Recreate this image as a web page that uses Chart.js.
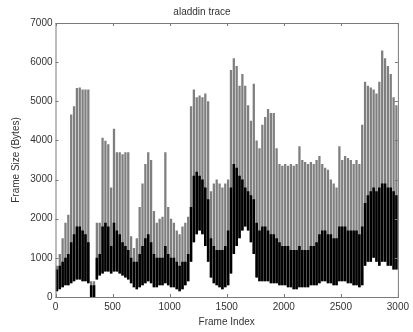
<!DOCTYPE html>
<html>
<head>
<meta charset="utf-8">
<script src="https://cdn.jsdelivr.net/npm/chart.js@4.4.1/dist/chart.umd.min.js"></script>
<style>
  html, body { margin: 0; padding: 0; background: #fff; }
  #wrap { position: relative; width: 413px; height: 332px; }
</style>
</head>
<body>
<div id="wrap"><canvas id="trace"></canvas></div>
<script>
// aladdin trace, frame sizes in bins of 25 frames
const binSize = 25;
const xTicks = [0, 500, 1000, 1500, 2000, 2500, 3000];
const yTicks = [0, 1000, 2000, 3000, 4000, 5000, 6000, 7000];

// top of the grey spikes (bytes)
const peakSize = [
  800, 1100, 1500, 1900, 2100, 4660, 4870, 5340, 5350, 5300,
  5300, 5300, 400, 400, 1900, 1900, 4070, 3990, 3900, 2800,
  4300, 3700, 3700, 3650, 3700, 3700, 1550, 1250, 1500, 2300,
  2900, 3400, 3700, 3500, 2200, 1900, 2000, 2050, 3700, 2300,
  2000, 1900, 1700, 1600, 1800, 1900, 2050, 4870, 5300, 5100,
  5150, 5100, 5200, 5000, 2700, 2900, 3000, 2900, 2800, 2900,
  3000, 5800, 6100, 5900, 5400, 5700, 5400, 4900, 4500, 5450,
  4000, 3800, 4400, 4600, 4800, 4700, 4700, 3800, 3400, 3350,
  3400, 3350, 3400, 3350, 3400, 3850, 3500, 3450, 3400, 3450,
  3400, 3500, 3600, 3400, 3300, 3250, 3000, 2900, 2800, 3850,
  3500, 3600, 3550, 3500, 3400, 3500, 3400, 4400, 5500, 5400,
  5350, 5300, 5200, 5500, 6300, 6100, 5900, 5700, 5100, 4900
];

// top of the dense black band (bytes)
const bandTop = [
  700, 800, 900, 1000, 1100, 1400, 1600, 1800, 1800, 1700,
  1600, 1400, 300, 300, 1000, 1100, 1800, 1900, 1800, 1300,
  1900, 1700, 1600, 1400, 1300, 1200, 1000, 900, 900, 1100,
  1300, 1500, 1600, 1400, 1100, 1000, 1000, 1000, 1300, 1100,
  1000, 1000, 900, 800, 900, 900, 1100, 2300, 3100, 3200,
  3100, 3000, 2800, 2500, 1500, 1300, 1200, 1200, 1200, 1300,
  1700, 2800, 3400, 3300, 3100, 3000, 2800, 2700, 2600, 2500,
  1900, 1700, 1800, 1800, 1700, 1600, 1600, 1500, 1400, 1300,
  1300, 1300, 1200, 1200, 1200, 1300, 1200, 1200, 1200, 1300,
  1300, 1400, 1600, 1700, 1700, 1600, 1600, 1500, 1500, 1800,
  1800, 1800, 1700, 1700, 1700, 1700, 1600, 1800, 2400, 2600,
  2700, 2800, 2700, 2800, 2900, 2900, 2800, 2800, 2700, 2600
];

// smallest frames in each bin (bytes)
const lowSize = [
  150, 200, 250, 300, 300, 350, 400, 450, 450, 400,
  400, 350, 0, 0, 450, 550, 600, 650, 650, 600,
  650, 650, 600, 550, 500, 450, 350, 250, 200, 250,
  300, 350, 400, 350, 250, 250, 300, 300, 350, 300,
  250, 250, 200, 150, 200, 300, 400, 900, 1400, 1600,
  1700, 1600, 1300, 900, 500, 350, 300, 250, 200, 250,
  300, 600, 1100, 1300, 1500, 1700, 1800, 1700, 1400, 1100,
  500, 400, 400, 400, 400, 350, 350, 350, 300, 300,
  300, 250, 250, 200, 200, 250, 250, 250, 250, 300,
  300, 300, 350, 400, 400, 350, 350, 300, 300, 400,
  400, 400, 350, 350, 300, 300, 250, 300, 800, 900,
  900, 1000, 900, 800, 900, 900, 800, 800, 700, 700
];

const binMid = peakSize.map((_, i) => i * binSize + binSize / 2);
const spikes = binMid.map((f, i) => ({ x: f, y: [lowSize[i], peakSize[i]] }));
const band = binMid.map((f, i) => ({ x: f, y: [lowSize[i], bandTop[i]] }));

const FONT = "'Liberation Sans', Arial, Helvetica, sans-serif";
const AXIS = '#7a7a7a';

// matlab style box with inward ticks on all four sides
const matlabBox = {
  id: 'matlabBox',
  afterDraw(chart) {
    const { ctx, chartArea: a, scales: { x, y } } = chart;
    ctx.save();
    ctx.strokeStyle = AXIS;
    ctx.lineWidth = 1;
    ctx.strokeRect(a.left + 0.5, a.top + 0.5, a.right - a.left, a.bottom - a.top);
    ctx.beginPath();
    xTicks.forEach(v => {
      const px = Math.round(x.getPixelForValue(v)) + 0.5;
      ctx.moveTo(px, a.bottom); ctx.lineTo(px, a.bottom - 3);
      ctx.moveTo(px, a.top); ctx.lineTo(px, a.top + 3);
    });
    yTicks.forEach(v => {
      const py = Math.round(y.getPixelForValue(v)) + 0.5;
      ctx.moveTo(a.left, py); ctx.lineTo(a.left + 3, py);
      ctx.moveTo(a.right, py); ctx.lineTo(a.right - 3, py);
    });
    ctx.stroke();
    ctx.restore();
  }
};

new Chart(document.getElementById('trace'), {
  type: 'bar',
  data: {
    datasets: [
      {
        label: 'dense',
        data: band,
        backgroundColor: '#000',
        grouped: false,
        order: 0,
        categoryPercentage: 1,
        barPercentage: 0.9
      },
      {
        label: 'frame size',
        data: spikes,
        backgroundColor: '#7f7f7f',
        grouped: false,
        order: 1,
        categoryPercentage: 1,
        barPercentage: 0.8
      }
    ]
  },
  options: {
    responsive: true,
    maintainAspectRatio: false,
    animation: false,
    layout: { padding: { right: 9, left: 0, top: 0, bottom: 0 } },
    plugins: {
      legend: { display: false },
      tooltip: { enabled: false },
      title: {
        display: true,
        text: 'aladdin trace',
        color: '#333',
        font: { family: FONT, size: 10, weight: 'normal' },
        padding: { top: 6, bottom: 5 }
      }
    },
    scales: {
      x: {
        type: 'linear',
        min: 0,
        max: 3000,
        offset: false,
        afterBuildTicks: s => { s.ticks = xTicks.map(v => ({ value: v })); },
        afterFit: s => { s.height = 35; },
        grid: { display: false, drawTicks: false },
        border: { display: false },
        ticks: { color: '#333', padding: 4, font: { family: FONT, size: 10 }, maxRotation: 0, callback: v => String(v) },
        title: {
          display: true,
          text: 'Frame Index',
          color: '#333',
          font: { family: FONT, size: 10 },
          padding: { top: 0, bottom: 4 }
        }
      },
      y: {
        min: 0,
        max: 7000,
        afterBuildTicks: s => { s.ticks = yTicks.map(v => ({ value: v })); },
        afterFit: s => { s.width = 55.5; },
        grid: { display: false, drawTicks: false },
        border: { display: false },
        ticks: { color: '#333', padding: 3, font: { family: FONT, size: 10 }, callback: v => String(v) },
        title: {
          display: true,
          text: 'Frame Size (Bytes)',
          color: '#333',
          font: { family: FONT, size: 10 },
          padding: { top: 10, bottom: 0 }
        }
      }
    }
  },
  plugins: [matlabBox]
});
</script>
</body>
</html>
